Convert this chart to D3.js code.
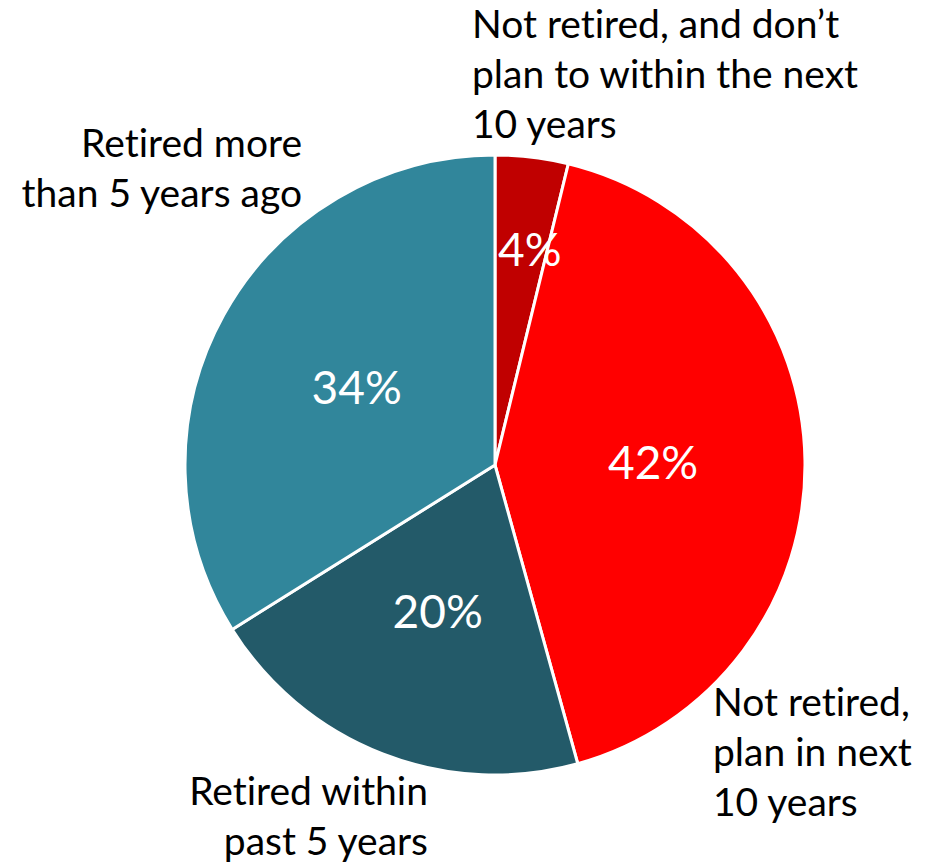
<!DOCTYPE html>
<html><head><meta charset="utf-8">
<script src="https://cdn.jsdelivr.net/npm/d3@7"></script>
<style>html,body{margin:0;padding:0;background:#fff;} text{font-variant-ligatures:none;font-feature-settings:"liga" 0, "clig" 0;}</style>
</head><body>
<svg id="chart" width="925" height="864"></svg>
<script>
const categories = [
  "Not retired, and don’t plan to within the next 10 years",
  "Not retired, plan in next 10 years",
  "Retired within past 5 years",
  "Retired more than 5 years ago"
];
const values = [3.8, 41.9, 20.4, 33.9];
const valueLabels = ["4%", "42%", "20%", "34%"];
const colors = ["#C00000", "#FF0000", "#235A69", "#31869B"];
const outerLabelLines = [
  ["Not retired, and don’t", "plan to within the next", "10 years"],
  ["Not retired,", "plan in next", "10 years"],
  ["Retired within", "past 5 years"],
  ["Retired more", "than 5 years ago"]
];

const svg = d3.select("#chart");
const cx = 495, cy = 465, R = 310;
const font = "Lato, 'Open Sans', sans-serif";
const g = svg.append("g").attr("transform", `translate(${cx},${cy})`);

const pie = d3.pie().sort(null).value(d => d)(values);
const arc = d3.arc().innerRadius(0).outerRadius(R);

g.selectAll("path.slice").data(pie).join("path")
  .attr("class", "slice")
  .attr("d", arc)
  .attr("fill", (d, i) => colors[i])
  .attr("stroke", "#fff").attr("stroke-width", 3).attr("stroke-linejoin", "round");

// percent labels (small slices pushed outward and nudged off the edge)
g.selectAll("text.pct").data(pie).join("text")
  .attr("class", "pct")
  .attr("transform", d => {
    const small = (d.endAngle - d.startAngle) < 0.5;
    const frac = small ? 0.70 : 0.51;
    const a = d3.arc().innerRadius(R * frac).outerRadius(R * frac);
    const [x, y] = a.centroid(d);
    return `translate(${x + (small ? 9 : 0)},${y + 16})`;
  })
  .attr("text-anchor", "middle")
  .attr("font-family", font).attr("font-size", 46)
  .attr("fill", "#fff")
  .text((d, i) => valueLabels[i]);

// outer labels
const outerPos = [
  {x: 472, y: 38, anchor: "start"},
  {x: 713, y: 716, anchor: "start"},
  {x: 428, y: 805, anchor: "end"},
  {x: 302, y: 157, anchor: "end"}
];
const lineH = 50;
outerLabelLines.forEach((lines, i) => {
  const p = outerPos[i];
  const t = svg.append("text")
    .attr("font-family", font).attr("font-size", 39)
    .attr("fill", "#000").attr("text-anchor", p.anchor);
  lines.forEach((ln, j) => {
    t.append("tspan").attr("x", p.x).attr("y", p.y + j * lineH).text(ln);
  });
});
</script>
</body></html>
